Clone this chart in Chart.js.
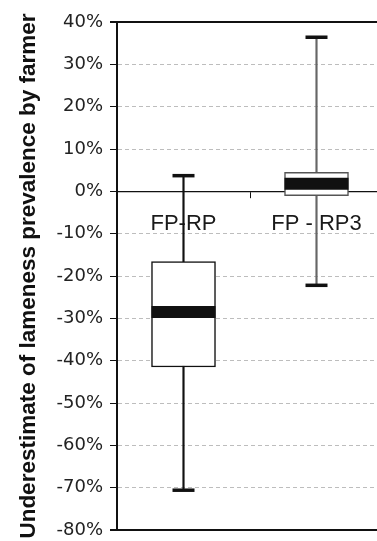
<!DOCTYPE html>
<html>
<head>
<meta charset="utf-8">
<script src="https://cdn.jsdelivr.net/npm/chart.js@4"></script>
<style>
  html, body { margin: 0; padding: 0; background: #fff; overflow: hidden; }
  #wrap { width: 383px; height: 541px; position: relative; }
</style>
</head>
<body>
<div id="wrap"><canvas id="c"></canvas></div>
<script>
const categories = ['FP-RP', 'FP - RP3'];
const whiskerLow = [-70.6, -22.2];
const whiskerHigh = [3.7, 36.4];
const q1 = [-41.5, -1.0];
const q3 = [-16.6, 4.5];
const median = [-28.5, 1.8];
const yMin = -80, yMax = 40, yStep = 10;
const yTitle = 'Underestimate of lameness prevalence by farmer';

const special = v => v === yMax || v === yMin || v === 0;

const chart = new Chart(document.getElementById('c'), {
  data: {
    labels: categories,
    datasets: [
      { type: 'line', data: whiskerHigh, showLine: false, pointStyle: 'line', pointRadius: 11,
        pointBorderWidth: 3.5, pointBorderColor: '#111', pointBackgroundColor: '#111', order: 0, clip: false },
      { type: 'line', data: whiskerLow, showLine: false, pointStyle: 'line', pointRadius: 11,
        pointBorderWidth: 3.5, pointBorderColor: '#111', pointBackgroundColor: '#111', order: 0, clip: false },
      { type: 'line', data: median, showLine: false, pointStyle: 'line', pointRadius: 32,
        pointBorderWidth: 12, pointBorderColor: '#111', pointBackgroundColor: '#111', order: 1, clip: false },
      { type: 'bar', data: q1.map((v, i) => [v, q3[i]]), backgroundColor: '#fff',
        borderColor: ['#111', '#555'], borderWidth: 1.5, borderSkipped: false,
        barThickness: 64, grouped: false, order: 2 },
      { type: 'bar', data: whiskerLow.map((v, i) => [v, whiskerHigh[i]]),
        backgroundColor: ['#111', '#666'], borderWidth: 0, barThickness: 1.5,
        grouped: false, order: 3 }
    ]
  },
  options: {
    responsive: true,
    maintainAspectRatio: false,
    animation: false,
    events: [],
    layout: { autoPadding: false, padding: { top: 22, bottom: 11, left: 0, right: 0 } },
    plugins: { legend: { display: false }, tooltip: { enabled: false } },
    scales: {
      x: {
        type: 'category',
        position: { y: 0 },
        offset: true,
        afterFit: s => { s.height = 0; s.paddingLeft = 0; s.paddingRight = 0; s.paddingTop = 0; s.paddingBottom = 0; },
        grid: { offset: true, drawOnChartArea: false, drawTicks: true, tickLength: 6, color: '#111', lineWidth: 1 },
        border: { display: true, color: '#111', width: 1.2 },
        ticks: { font: { family: 'Liberation Sans', size: 22 }, color: '#1a1a1a', padding: 13, maxRotation: 0, autoSkip: false }
      },
      y: {
        min: yMin, max: yMax,
        afterFit: s => { s.width = 117; s.paddingTop = 0; s.paddingBottom = 0; },
        ticks: { stepSize: yStep, callback: v => v + '%', font: { family: 'DejaVu Sans', size: 18 }, color: '#222', padding: 7 },
        grid: {
          drawTicks: true, tickLength: 7,
          color: ctx => (ctx.tick && special(ctx.tick.value)) ? '#111' : '#bdbdbd',
          lineWidth: ctx => (ctx.tick && (ctx.tick.value === yMax || ctx.tick.value === yMin)) ? 2 : 1,
          tickColor: '#111'
        },
        border: {
          display: true, color: '#111', width: 2,
          dash: ctx => (ctx.tick && !special(ctx.tick.value)) ? [4, 3] : []
        },
        title: {
          display: true, text: yTitle, color: '#111',
          font: { family: 'Liberation Sans', weight: 'bold', size: 22.5 },
          padding: { top: 15, bottom: 0 }
        }
      }
    }
  }
});
</script>
</body>
</html>
